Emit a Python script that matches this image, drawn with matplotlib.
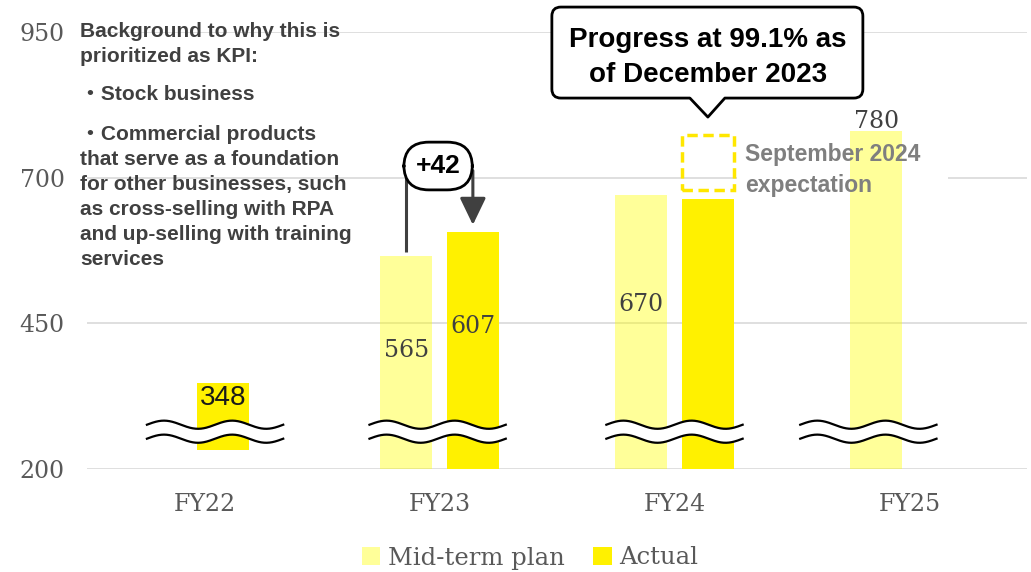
import numpy as np
import matplotlib.pyplot as plt
import matplotlib.patches as mpatches
import matplotlib.transforms as mtransforms
from matplotlib.path import Path

# KPI values (mid-term plan vs actual)
years = ['FY22', 'FY23', 'FY24', 'FY25']
plan = [np.nan, 565, 670, 780]
actual = [348, 607, 664, np.nan]
expect_lo, expect_hi = 679, 773      # September 2024 expectation
yticks = [200, 450, 700, 950]

# label heights inside / above the bars
label_y = {'plan': [np.nan, 404, 482, 796], 'actual': [322, 444, np.nan, np.nan]}
# horizontal shift of each axis-break symbol
break_shift = [0.045, -0.008, 0.0, -0.175]

PLAN_C = '#FFFF00'
ACT_C = '#FFF100'
GRAY = '#595959'
DARK = '#404040'
SERIF = 'DejaVu Serif'
SANS = ['Liberation Sans', 'Noto Sans CJK JP']

fig = plt.figure(figsize=(10.31, 5.72), dpi=100)
ax = fig.add_axes([87 / 1031, 103 / 572, 940 / 1031, 437 / 572])

x = np.arange(len(years))
off = 0.142
width = 0.222
plan = np.array(plan, dtype=float)
actual = np.array(actual, dtype=float)

# FY22 has no plan bar, so its actual bar sits nearer the middle
act_x = x + np.where(np.isnan(plan), 0.08, off)
act_bottom = np.where(np.isnan(plan), 233, 200)

ax.bar(x - off, plan - 200, width, bottom=200, color=PLAN_C, alpha=0.4, zorder=2, lw=0)
ax.bar(act_x, actual - act_bottom, width, bottom=act_bottom, color=ACT_C, zorder=2, lw=0)

for i in range(len(years)):
    if not np.isnan(plan[i]):
        ax.text(x[i] - off, label_y['plan'][i], '%d' % plan[i], ha='center', va='center',
                fontsize=17, family=SERIF, color=DARK, zorder=6)
    if not np.isnan(actual[i]) and not np.isnan(label_y['actual'][i]):
        fam = SANS if np.isnan(plan[i]) else SERIF
        ax.text(act_x[i], label_y['actual'][i], '%d' % actual[i], ha='center', va='center',
                fontsize=20 if np.isnan(plan[i]) else 17, family=fam,
                color='#1a1a1a' if np.isnan(plan[i]) else DARK, zorder=6)

# wavy axis-break marks
t = np.linspace(0, 1, 200)
for i, s in enumerate(break_shift):
    xs = x[i] + s - 0.29 + 0.58 * t
    w = 7 * np.sin(2 * np.pi * 2 * t)
    ax.fill_between(xs, 252 + w, 276 + w, color='white', lw=0, zorder=4)
    ax.plot(xs, 276 + w, color='black', lw=1.6, zorder=5)
    ax.plot(xs, 252 + w, color='black', lw=1.6, zorder=5)

# +42 difference marker for FY23
diff = actual[1] - plan[1]
ax.plot([1 - off, 1 - off], [572, 715], color=DARK, lw=2.2, zorder=6, solid_capstyle='butt')
ax.annotate('', xy=(1 + off, 619), xytext=(1 + off, 712),
            arrowprops=dict(arrowstyle='-|>,head_length=1.66,head_width=0.8', color=DARK,
                            lw=2.2, shrinkA=0, shrinkB=0, mutation_scale=10), zorder=6)
ax.text(0.994, 720, '+%d' % diff, ha='center', va='center', fontsize=19, fontweight='bold',
        family=SANS, zorder=7,
        bbox=dict(boxstyle='round,pad=0.45,rounding_size=0.95', fc='white', ec='black', lw=2))

# September 2024 expectation
ax.add_patch(mpatches.Rectangle((2 + off - width / 2, expect_lo), width, expect_hi - expect_lo,
                                fill=False, ec='#FFE700', lw=2.5, ls=(0, (3, 1.6)), zorder=3))
ax.add_patch(mpatches.Rectangle((2.265, 660), 0.9, 105, fc='white', ec='none', zorder=1.5))
# multi-line texts below are anchored on the baseline of their last line
ax.text(2.30, 675, 'September 2024\nexpectation', ha='left', va='baseline', fontsize=16.5,
        fontweight='bold', family=SANS, color='#7F7F7F', linespacing=1.47, zorder=6)

# speech-bubble callout pointing at the FY24 actual bar (pixel units around the tip)
trans = (mtransforms.Affine2D().scale(1 / 100) + fig.dpi_scale_trans
         + mtransforms.ScaledTranslation(2 + off, 804, ax.transData))
L, R, B, T, r = -156, 155, 19, 110, 9
verts = [(-18, B), (0, 0), (17, B), (R - r, B), (R, B), (R, B + r), (R, T - r), (R, T),
         (R - r, T), (L + r, T), (L, T), (L, T - r), (L, B + r), (L, B), (L + r, B),
         (-18, B), (-18, B)]
codes = [Path.MOVETO, Path.LINETO, Path.LINETO, Path.LINETO, Path.CURVE3, Path.CURVE3,
         Path.LINETO, Path.CURVE3, Path.CURVE3, Path.LINETO, Path.CURVE3, Path.CURVE3,
         Path.LINETO, Path.CURVE3, Path.CURVE3, Path.LINETO, Path.CLOSEPOLY]
ax.add_patch(mpatches.PathPatch(Path(verts, codes), fc='white', ec='black', lw=2,
                                joinstyle='round', transform=trans, clip_on=False, zorder=8))
ax.text(0, 35, 'Progress at 99.1% as\nof December 2023', transform=trans, ha='center',
        va='baseline', fontsize=20, fontweight='bold', family=SANS, linespacing=1.47,
        clip_on=False, zorder=9)

# axes styling
ax.set_xlim(-0.5, 3.5)
ax.set_ylim(200, 950)
ax.set_yticks(yticks)
ax.set_xticks(x)
ax.set_xticklabels(years)
ax.yaxis.grid(True, color='#D9D9D9', lw=1.2)
ax.set_axisbelow(True)
for sp in ax.spines.values():
    sp.set_visible(False)
ax.tick_params(axis='y', length=0, pad=16, labelsize=17, labelcolor=GRAY)
ax.tick_params(axis='x', length=0, pad=17, labelsize=17, labelcolor=GRAY)
for lbl in ax.get_xticklabels() + ax.get_yticklabels():
    lbl.set_family(SERIF)

# explanatory note on the left
note_kw = dict(ha='left', va='baseline', fontsize=15, fontweight='bold', family=SANS,
               color=DARK, linespacing=1.4, zorder=9)
fig.text(80 / 1031, 1 - 62 / 572, 'Background to why this is\nprioritized as KPI:', **note_kw)
fig.text(80 / 1031, 1 - 100 / 572, '・Stock business', **note_kw)
fig.text(80 / 1031, 1 - 265 / 572,
         '・Commercial products\nthat serve as a foundation\nfor other businesses, such\n'
         'as cross-selling with RPA\nand up-selling with training\nservices', **note_kw)

handles = [mpatches.Patch(fc=PLAN_C, alpha=0.4, lw=0), mpatches.Patch(fc=ACT_C, lw=0)]
fig.legend(handles, ['Mid-term plan', 'Actual'], loc='center',
           bbox_to_anchor=(530 / 1031, 1 - 558 / 572), ncol=2, frameon=False,
           prop={'family': SERIF, 'size': 17.5}, labelcolor=GRAY, handlelength=0.75,
           handleheight=0.75, handletextpad=0.3, columnspacing=1.2)

fig.savefig('out.png', dpi=100)
